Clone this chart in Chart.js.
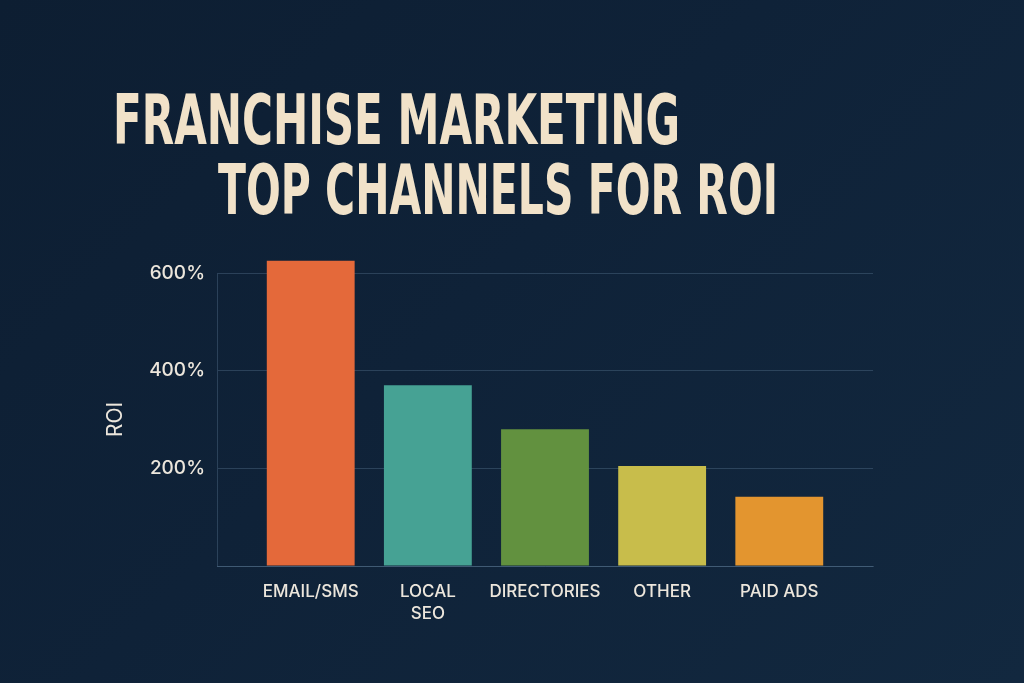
<!DOCTYPE html>
<html>
<head>
<meta charset="utf-8">
<script src="https://cdn.jsdelivr.net/npm/chart.js@4"></script>
<style>
  html, body { margin: 0; padding: 0; }
  body {
    width: 1024px; height: 683px; overflow: hidden; position: relative;
    background: linear-gradient(135deg, #0d1e32 0%, #0f2238 45%, #12283f 100%);
  }
  .title {
    position: absolute; margin: 0; white-space: nowrap;
    font-family: "DejaVu Sans Condensed", "DejaVu Sans", sans-serif;
    font-weight: bold; font-size: 70px; line-height: 1; color: #f1e2c9;
    transform-origin: 0 0;
  }
  #chartBox { position: absolute; left: 0; top: 0; width: 1024px; height: 683px; }
</style>
</head>
<body>
<div class="title" id="t1" data-left="113" data-right="680" data-top="101" data-cap="50">FRANCHISE MARKETING</div>
<div class="title" id="t2" data-left="218" data-right="778" data-top="171" data-cap="50">TOP CHANNELS FOR ROI</div>
<div id="chartBox"><canvas id="roiChart" width="1024" height="683"></canvas></div>
<script>
const channels = ['EMAIL/SMS', ['LOCAL', 'SEO'], 'DIRECTORIES', 'OTHER', 'PAID ADS'];
const roi = [625, 370, 280, 205, 142];
const barColors = ['#e4693a', '#46a294', '#62913f', '#c8bd4b', '#e3952f'];
const yTicks = [200, 400, 600];

// fit title lines to their spot in the picture
document.querySelectorAll('.title').forEach(el => {
  const r = el.getBoundingClientRect();
  const w = el.dataset.right - el.dataset.left;
  const capH = 70 * 0.729;
  const sy = el.dataset.cap / capH;
  el.style.left = el.dataset.left + 'px';
  el.style.top = (el.dataset.top - (70 - capH) * 0.8 * sy) + 'px';
  el.style.transform = 'scale(' + (w / r.width) + ',' + sy + ')';
});

const gridColor = 'rgba(120, 150, 180, 0.28)';
const textColor = '#ece6dc';

const ctx = document.getElementById('roiChart').getContext('2d');
new Chart(ctx, {
  type: 'bar',
  data: {
    datasets: [{
      data: roi.map((v, i) => ({ x: i, y: v })),
      backgroundColor: barColors,
      borderWidth: 0,
      categoryPercentage: 1,
      barPercentage: 0.75,
      clip: false
    }]
  },
  options: {
    responsive: false,
    animation: false,
    layout: { padding: { left: 103, right: 151, top: 273, bottom: 30 } },
    plugins: { legend: { display: false }, tooltip: { enabled: false } },
    scales: {
      x: {
        type: 'linear',
        min: -0.8,
        max: 4.8,
        offset: false,
        afterFit: s => { s.height = 683 - 566 - 30; },
        grid: { display: false, offset: false },
        border: { display: true, color: gridColor, width: 1 },
        ticks: {
          stepSize: 1,
          includeBounds: false,
          autoSkip: false,
          maxRotation: 0,
          padding: 7,
          color: textColor,
          font: { family: 'Inter', size: 17, weight: '500', lineHeight: 1.3 },
          callback: v => Number.isInteger(v) ? channels[v] : ''
        }
      },
      y: {
        min: 0,
        max: 600,
        afterFit: s => { s.width = 114; },
        afterBuildTicks: s => { s.ticks = [0].concat(yTicks).map(v => ({ value: v })); },
        grid: { color: gridColor, lineWidth: 1, drawTicks: false },
        border: { display: true, color: gridColor, width: 1 },
        title: {
          display: true, text: 'ROI', color: textColor, padding: 0,
          font: { family: 'Inter', size: 21, weight: '400' }
        },
        ticks: {
          padding: 12,
          color: textColor,
          font: { family: 'Inter', size: 19, weight: '500' },
          callback: v => v === 0 ? '' : v + '%'
        }
      }
    }
  }
});
</script>
</body>
</html>
